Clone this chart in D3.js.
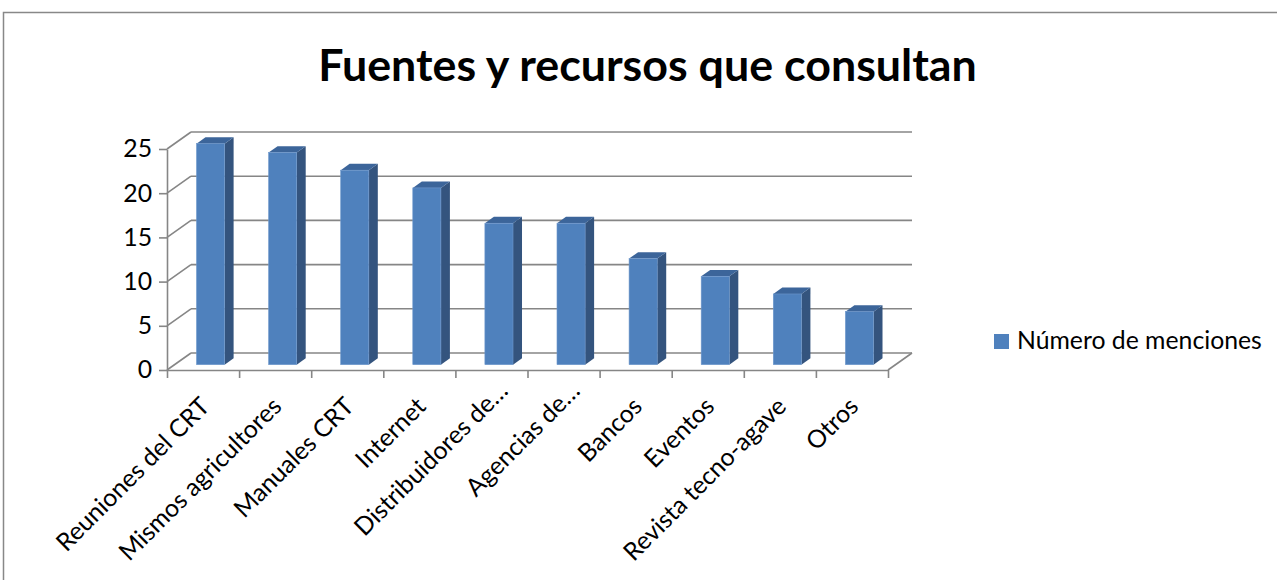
<!DOCTYPE html>
<html>
<head>
<meta charset="utf-8">
<script src="https://cdn.jsdelivr.net/npm/d3@7"></script>
<style>
  html, body { margin: 0; padding: 0; background: #fff; }
  svg { display: block; }
  text { font-family: Lato, "Noto Sans", sans-serif; fill: #000; }
</style>
</head>
<body>
<svg id="chart" width="1277" height="580"></svg>
<script>
const title = "Fuentes y recursos que consultan";
const seriesName = "Número de menciones";
const categories = ["Reuniones del CRT", "Mismos agricultores", "Manuales CRT", "Internet",
  "Distribuidores de…", "Agencias de…", "Bancos", "Eventos", "Revista tecno-agave", "Otros"];
const values = [25, 24, 22, 20, 16, 16, 12, 10, 8, 6];
const yTicks = [0, 5, 10, 15, 20, 25];

const svg = d3.select("#chart");
const gridColor = "#868686";
const front = "#4F81BD", side = "#34547E", topC = "#3C659A";

function fitSize(str, weight, target) {
  const t = svg.append("text").attr("font-size", 100).attr("font-weight", weight).text(str);
  const w = t.node().getComputedTextLength();
  t.remove();
  return 100 * target / w;
}
const baseSize = fitSize(seriesName, "normal", 245);
const titleSize = fitSize(title, "bold", 659);

// chart border
svg.append("rect").attr("x", 3.5).attr("y", 12.5).attr("width", 1400).attr("height", 700)
  .attr("fill", "none").attr("stroke", "#888").attr("stroke-width", 1.5);

// title
svg.append("text").attr("x", 647.5).attr("y", 81).attr("text-anchor", "middle")
  .attr("font-weight", "bold").attr("font-size", titleSize).text(title);

// scales
const x = d3.scaleBand().domain(categories).range([167, 888]).padding(0);
const xi = d3.scaleLinear().domain([0, categories.length]).range([167, 888]);
const y = d3.scaleLinear().domain([0, 25]).range([370, 149]);
const DX = 24, DY = -17;

// back wall gridlines & left wall diagonals
const grid = svg.append("g").attr("stroke", gridColor).attr("stroke-width", 1.6).attr("fill", "none");
yTicks.forEach(t => {
  grid.append("line").attr("x1", 167 + DX).attr("y1", y(t) + DY).attr("x2", 888 + DX).attr("y2", y(t) + DY);
  grid.append("line").attr("x1", 167).attr("y1", y(t)).attr("x2", 167 + DX).attr("y2", y(t) + DY);
});
// floor right edge
grid.append("line").attr("x1", 888).attr("y1", y(0)).attr("x2", 888 + DX).attr("y2", y(0) + DY);

// bars
const bw = x.bandwidth() * 0.39;
const f0 = 0.3125, f1 = 0.6875;
const bars = svg.append("g");
categories.forEach((c, i) => {
  const v = values[i];
  const xl = x(c) + x.bandwidth() / 2 - bw / 2, xr = xl + bw;
  const yt = y(v), yb = y(0);
  const p = (px, py, f) => [px + f * DX, py + f * DY];
  const poly = pts => pts.map(q => q.join(",")).join(" ");
  bars.append("polygon").attr("fill", side)
    .attr("points", poly([p(xr, yt, f0), p(xr, yt, f1), p(xr, yb, f1), p(xr, yb, f0)]));
  bars.append("polygon").attr("fill", topC)
    .attr("points", poly([p(xl, yt, f0), p(xr, yt, f0), p(xr, yt, f1), p(xl, yt, f1)]));
  const [fx, fy] = p(xl, yt, f0);
  bars.append("rect").attr("x", fx).attr("y", fy).attr("width", bw).attr("height", yb - yt)
    .attr("fill", front).attr("stroke", "#6F98CC").attr("stroke-width", 0.6);
});

// y axis
const yAxis = svg.append("g").attr("transform", "translate(167,0)")
  .call(d3.axisLeft(y).tickValues(yTicks).tickSize(8).tickSizeOuter(0).tickPadding(7));
yAxis.selectAll("path, line").attr("stroke", gridColor).attr("stroke-width", 1.6);
yAxis.selectAll("text").attr("font-size", baseSize).attr("font-family", "Lato, 'Noto Sans', sans-serif").attr("fill", "#000");

// x axis (ticks at category boundaries)
const xAxis = svg.append("g").attr("transform", "translate(0,370)")
  .call(d3.axisBottom(xi).ticks(categories.length).tickSize(8).tickSizeOuter(0).tickFormat(""));
xAxis.selectAll("path, line").attr("stroke", gridColor).attr("stroke-width", 1.6);

// x labels rotated
svg.append("g").selectAll("text").data(categories).join("text")
  .attr("transform", d => `translate(${x(d) + x.bandwidth() / 2 + 8},408) rotate(-45)`)
  .attr("text-anchor", "end")
  .attr("dx", d => d.endsWith("…") ? 18 : 0)
  .attr("dy", d => d.endsWith("…") ? -4 : 0)
  .attr("font-size", baseSize).text(d => d);

// legend
svg.append("rect").attr("x", 994).attr("y", 334).attr("width", 15).attr("height", 15).attr("fill", front);
svg.append("text").attr("x", 1017).attr("y", 349).attr("font-size", baseSize).text(seriesName);
</script>
</body>
</html>
